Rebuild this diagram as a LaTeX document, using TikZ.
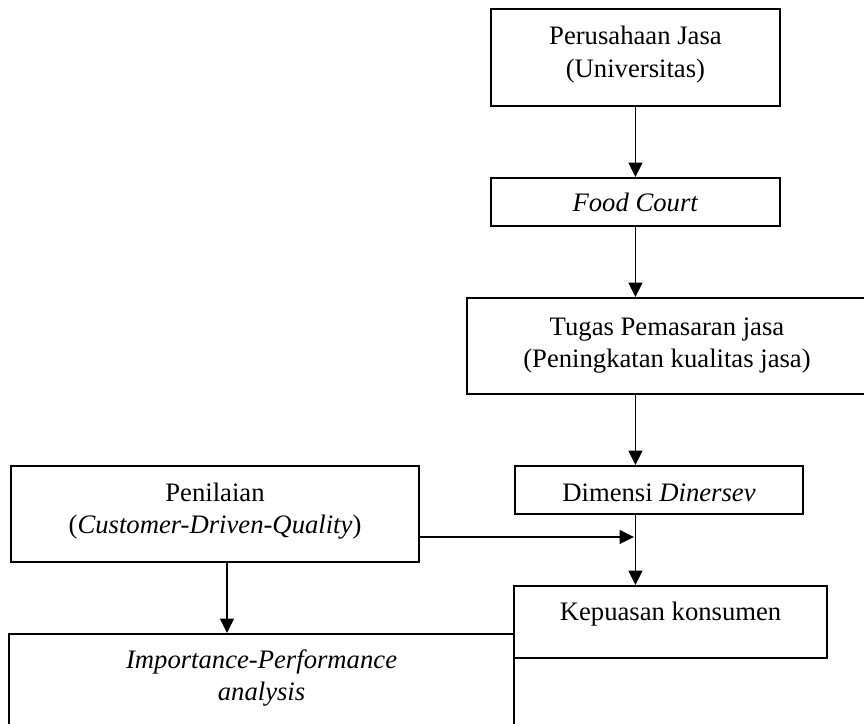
\documentclass[tikz,border=0pt]{standalone}
\usepackage{fontspec}
\setmainfont{Liberation Serif}
\usetikzlibrary{arrows.meta,positioning,calc}

\begin{document}
\begin{tikzpicture}[x=0.45pt, y=-0.45pt,
    box/.style={rectangle, draw, line width=0.9pt, inner sep=0pt, anchor=north west, align=center, font=\fontsize{12}{14.5}\selectfont},
    arrow/.style={line width=0.6pt, -{Triangle[length=6.5pt, width=6.3pt]}}
]
    \useasboundingbox (0,0) rectangle (864,723);
    \clip (0,0) rectangle (864,723);

    % main column
    \node[box, minimum width=130pt, text height=30.7pt, text depth=13pt] (pj) at (490,8) {Perusahaan Jasa\\(Universitas)};
    \node[box, minimum width=130pt, text height=14.9pt, text depth=6.8pt] (fc) at (490,177) {\textit{Food Court}};
    \node[box, minimum width=180pt, text height=31.2pt, text depth=12.1pt] (tp) at (466,297) {Tugas Pemasaran jasa\\(Peningkatan kualitas jasa)};
    \node[box, minimum width=129.6pt, text height=15.8pt, text depth=5.9pt] (dd) at (514,465) {Dimensi \textit{Dinersev}};
    \node[box, minimum width=140.9pt, text height=15.3pt, text depth=17.1pt] (kk) at (513,585) {Kepuasan konsumen};

    % left side
    \node[box, minimum width=183.6pt, text height=30.3pt, text depth=13pt] (pn) at (10,465) {Penilaian\\(\textit{Customer-Driven-Quality})};
    \node[box, minimum width=227.3pt, text height=29.8pt, text depth=45.5pt] (ipa) at (8,633) {\textit{Importance-Performance}\\\textit{analysis}};

    \coordinate (join) at (634,537);
    \coordinate (down) at (227,0);

    % connectors
    \draw[arrow] (pj.south) -- (fc.north);
    \draw[arrow] (fc.south) -- (fc.south |- tp.north);
    \draw[arrow] (fc.south |- tp.south) -- (fc.south |- dd.north);
    \draw[arrow] (fc.south |- dd.south) -- (fc.south |- kk.north);
    \draw[arrow] (pn.east |- join) -- (join);
    \draw[arrow] (pn.south -| down) -- (ipa.north -| down);
\end{tikzpicture}
\end{document}
